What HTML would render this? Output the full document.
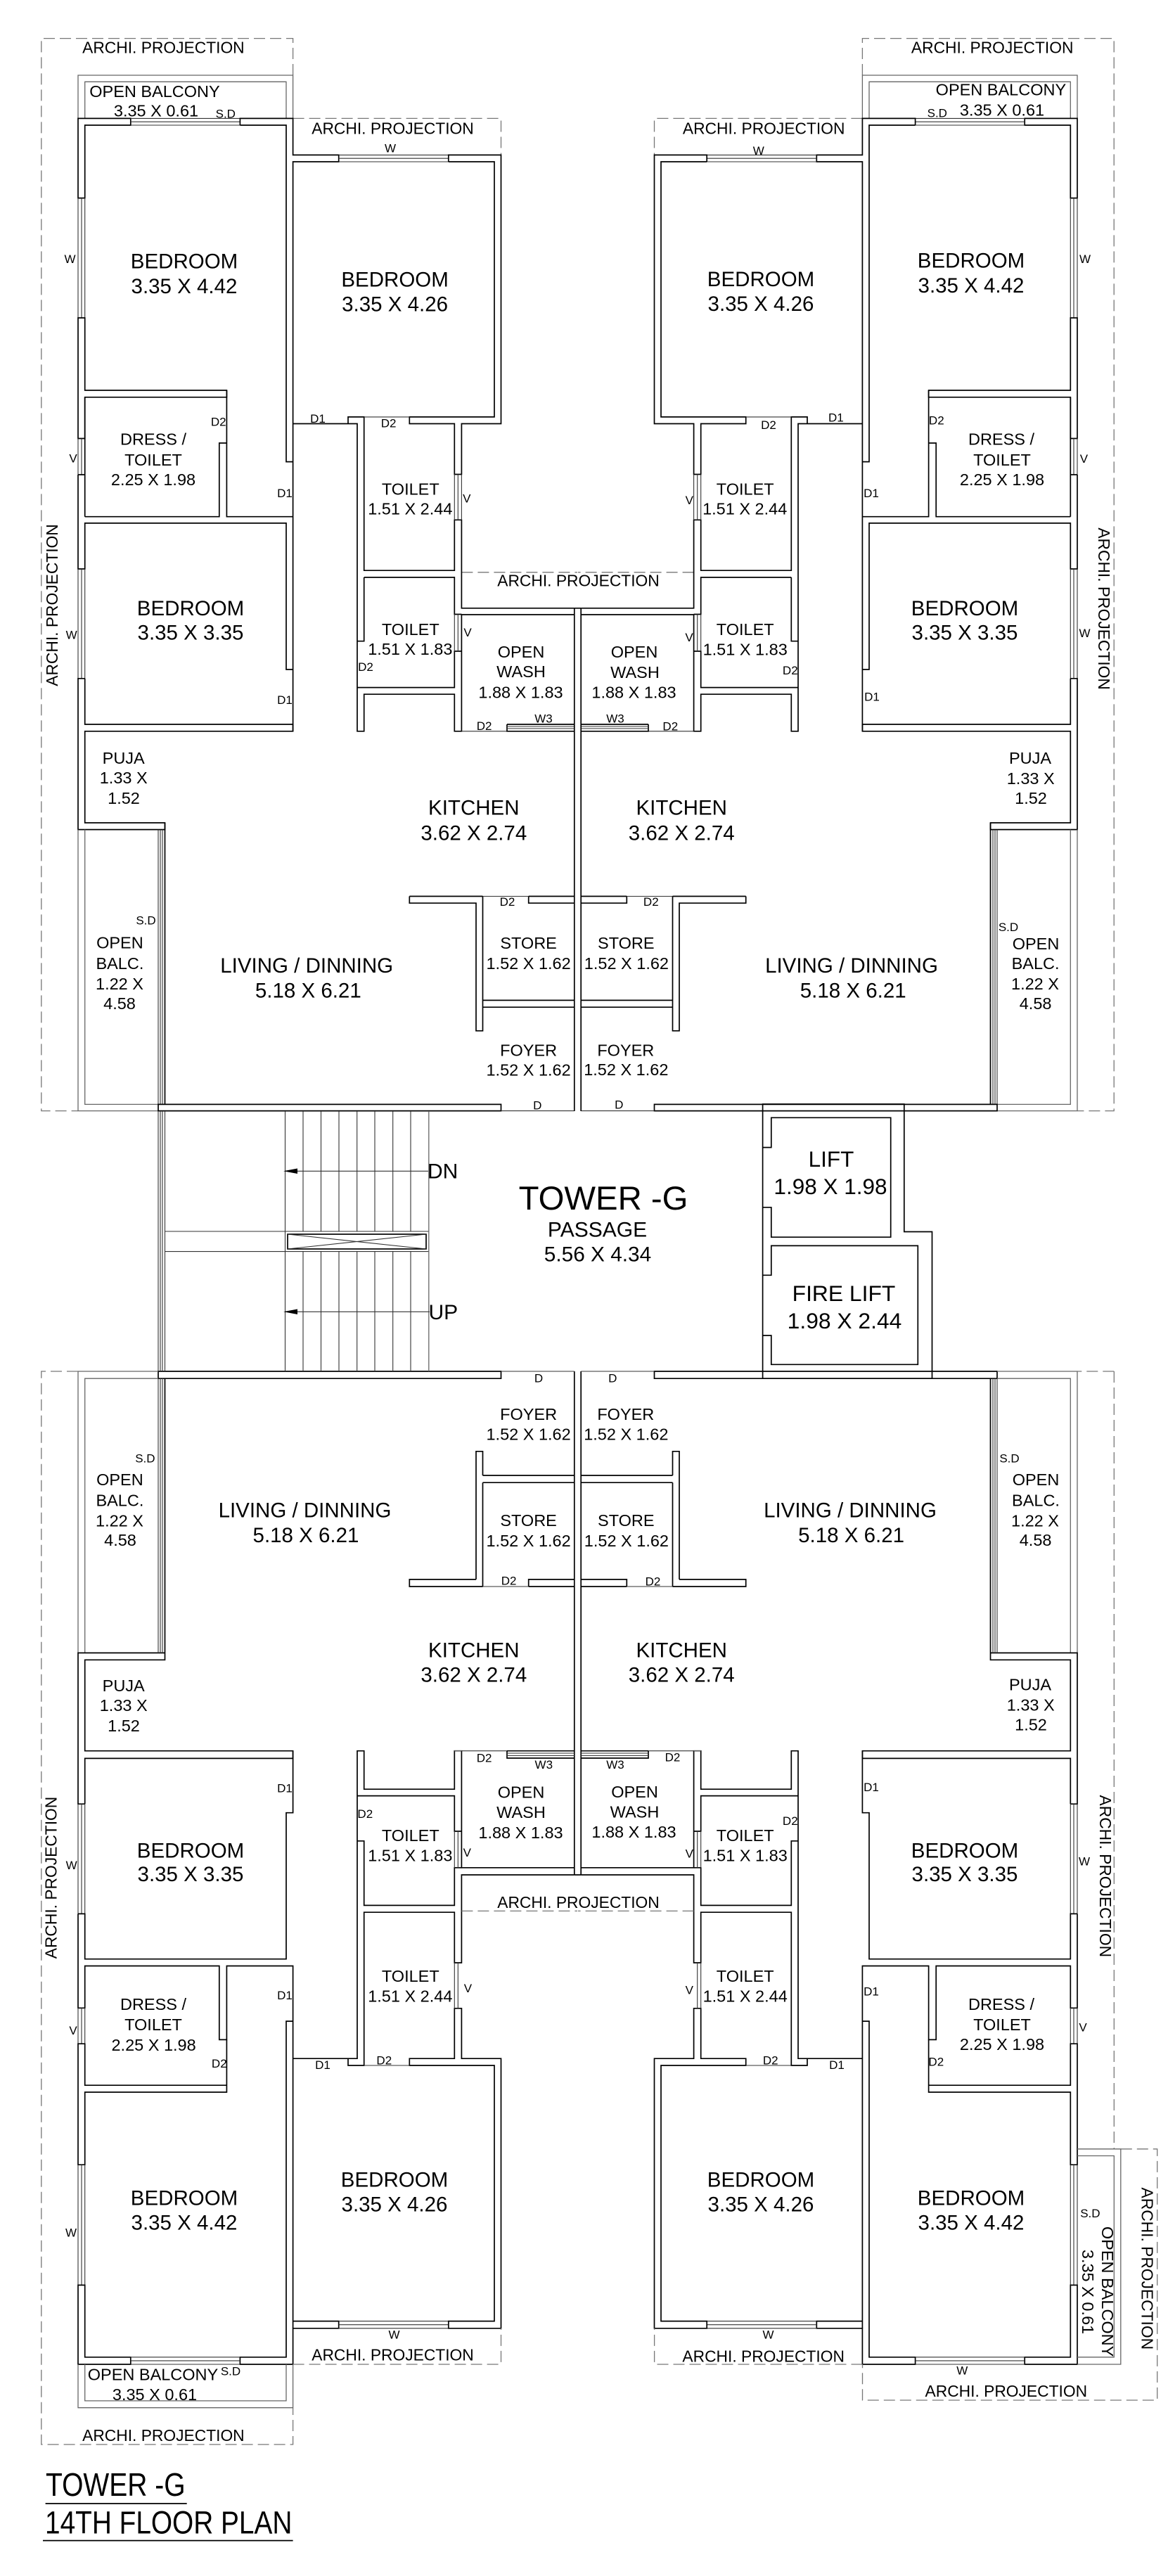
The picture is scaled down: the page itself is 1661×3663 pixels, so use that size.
<!DOCTYPE html>
<html><head><meta charset="utf-8"><title>Tower G 14th Floor Plan</title>
<style>
html,body{margin:0;padding:0;background:#fff}
svg{display:block}
text{font-family:"Liberation Sans",Arial,sans-serif;fill:#000;text-anchor:middle}
.a{font-size:29.5px}.b{font-size:23.5px}.c{font-size:17px}.p{font-size:22.8px}
.w{fill:none;stroke:#000;stroke-width:1.7}
.t{fill:none;stroke:#333;stroke-width:1.1}
.g{fill:none;stroke:#666;stroke-width:1.3}
.d{fill:none;stroke:#777;stroke-width:1.3;stroke-dasharray:16 7}
</style></head><body>
<svg xmlns="http://www.w3.org/2000/svg" width="1661" height="3663" viewBox="0 0 1661 3663">
<rect width="1661" height="3663" fill="#fff"/>
<defs>
<g id="half">
<!-- TOP: balcony / projections (dashes drawn separately for lower) -->
<path class="d" d="M416.6 107V54.6H58.8V1579.6H111"/>
<path class="g" d="M111 168.4V107H416.6V168.4M120.7 168.4V116.3H407V168.4"/>
<path class="d" d="M416.6 168.4H712.5V220.4"/>
<path class="d" d="M656.4 813.8H821"/>
<!-- top bedroom 1 -->
<path class="w" d="M185.8 168.4H111V281.6H120.7V178H185.8Z"/>
<path class="t" d="M185.8 168.4H341.4M185.8 173.2H341.4M185.8 178H341.4"/>
<path class="w" d="M341.4 178V168.4H416.6V220.4H481.7V230H416.6V1039.8"/>
<path class="w" d="M341.4 178H407V656.6H416.6"/>
<path class="t" d="M481.7 220.4H637.8M481.7 225.2H637.8M481.7 230H637.8"/>
<path class="w" d="M637.8 230V220.4H712.5V602.5H656.4V674.5H646.3V602.5H582.3V592.9H703V230H637.8"/>
<!-- left wall -->
<path class="t" d="M111 281.6V452M116 281.6V452M120.7 281.6V452"/>
<path class="w" d="M111 452H120.7V555H322.4V564.8H120.7V623.5H111Z"/>
<path class="t" d="M111 623.5V675M116 623.5V675M120.7 623.5V675"/>
<path class="w" d="M111 675H120.7V564.8M120.7 675V734.7M111 675V809H120.7V743.9H407V952H416.6M120.7 734.7H311.8V630H322.4V555M322.4 630V734.7H416.6"/>
<path class="t" d="M111 809V964.8M116 809V964.8M120.7 809V964.8"/>
<path class="w" d="M120.7 964.8H111V1179.6H234.5V1170H120.7V1039.8H416.6V1030H120.7V964.8"/>
<!-- balcony side + glazing -->
<path class="g" d="M111 1179.6V1579.6H225M120.7 1179.6V1570.4H225"/>
<path class="w" d="M234.5 1170V1570.4"/>
<path class="t" d="M225 1179.6V1570.4M228 1179.6V1570.4M231 1179.6V1570.4"/>
<path class="w" d="M225 1570.4H712.5V1579.6H225Z"/>
<path class="t" d="M712.5 1579.6H816.8"/>
<!-- toilets top -->
<path class="t" d="M416.6 602.5H495"/>
<path class="w" d="M416.6 602.5H495V592.9H517.7V811.2H646.3V739.3H656.4V864.8H816.8M495 602.5H508V1039.8H517.7V987.2H646.3V1039.8H656.4V874H816.8"/>
<path class="t" d="M517.7 592.9H582.3"/>
<path class="t" d="M646.3 674.5V739.3M651.3 674.5V739.3M656.4 674.5V739.3"/>
<path class="w" d="M517.7 821H646.3V873.5H656.4M517.7 821V911.7H508M517.7 977.6H646.3V926H656.4M508 977.6H517.7"/>
<path class="t" d="M646.3 873.5V926M651.3 873.5V926"/>
<path class="t" d="M656.4 1039.8H721"/>
<path class="w" d="M721 1030V1039.8H816.8M721 1030H816.8"/>
<path class="t" d="M721 1033H816.8M721 1036H816.8"/>
<!-- store top -->
<path class="w" d="M582.3 1274.5H686.5M582.3 1274.5V1284.2H677V1465.8H686.5V1274.5M686.5 1422.4H816.8M686.5 1432.2H816.8M751.7 1274.5V1284.2H816.8M751.7 1274.5H816.8"/>
<path class="t" d="M686.5 1274.5H751.7"/>
<!-- center wall half -->
<path class="w" d="M816.8 864.8V1580M816.8 1950V2666M816.8 864.8H821.6M816.8 2666H821.6"/>
<!-- LOWER -->
<path class="w" d="M225 1950H712.5V1960.2H225Z"/>
<path class="t" d="M712.5 1950H816.8"/>
<path class="g" d="M225 1950H111V2350.4M120.7 2350.4V1960.2H225"/>
<path class="w" d="M234.5 1960.2V2360.3H120.7V2489.7H416.6V2500.4H120.7V2565.2M234.5 2350.4H111V2565.2H120.7"/>
<path class="t" d="M225 1960.2V2350.4M228 1960.2V2350.4M231 1960.2V2350.4"/>
<path class="t" d="M111 2565.2V2721.4M116 2565.2V2721.4M120.7 2565.2V2721.4"/>
<path class="w" d="M111 2721.4H120.7V2785.7H407V2577.7H416.6V2489.7M111 2721.4V2855.3H120.7V2795.5H311.8V2900.4H322.4V2795.5H416.6V3310.8"/>
<path class="w" d="M416.6 2874.1H407V3351.8H341.4V3362H416.6V3310.8H481.7V3300.6H416.6"/>
<path class="t" d="M111 2855.3V2906.2M116 2855.3V2906.2M120.7 2855.3V2906.2"/>
<path class="w" d="M111 2906.2H120.7V2965.2H322.4V2975H120.7V3078.2H111ZM322.4 2900.4V2975"/>
<path class="t" d="M111 3078.2V3249.4M116 3078.2V3249.4M120.7 3078.2V3249.4"/>
<path class="w" d="M111 3249.4H120.7V3351.8H185.8V3362H111Z"/>
<path class="t" d="M185.8 3351.8H341.4M185.8 3356.9H341.4M185.8 3362H341.4"/>
<path class="t" d="M481.7 3300.6H637.8M481.7 3305.7H637.8M481.7 3310.8H637.8"/>
<path class="w" d="M637.8 3310.8V3300.6H703V2937H582.3V2927.2H646.3V2855.8H656.4V2927.2H712.5V3310.8Z"/>
<path class="w" d="M416.6 2927.2H495V2937H517.7V2719.2H646.3V2791H656.4V2666H816.8M495 2927.2H508V2489.7H517.7V2544.2H646.3V2489.7H656.4V2655.8H816.8M508 2553.6H646.3V2604H656.4"/>
<path class="t" d="M517.7 2937H582.3"/>
<path class="w" d="M508 2617.8H517.7V2709.4H646.3V2655.8H656.4"/>
<path class="t" d="M646.3 2604V2655.8M651.3 2604V2655.8"/>
<path class="t" d="M646.3 2791V2855.8M651.3 2791V2855.8"/>
<path class="t" d="M656.4 2489.7H721"/>
<path class="w" d="M721 2489.7V2500H816.8M721 2489.7H816.8"/>
<path class="t" d="M721 2493H816.8M721 2496.5H816.8"/>
<path class="d" d="M656.4 2717.4H821"/>
<path class="g" d="M656.4 2489.7H646.3"/>
<!-- store lower -->
<path class="w" d="M686.5 2098H816.8M686.5 2108.2H816.8M677 2245.9V2063.8H686.5V2098M686.5 2108.2V2256M677 2245.9H582.3V2256H686.5M751.7 2256V2245.9H816.8M751.7 2256H816.8"/>
<path class="t" d="M686.5 2256H751.7"/>
</g>
</defs>
<use href="#half"/>
<use href="#half" transform="matrix(-1 0 0 1 1643 0)"/>

<!-- lower-left-only dashes & balcony -->
<path class="d" d="M111 1950H58.8V3476H416.6V3423.7"/>
<path class="g" d="M111 3362V3423.7H416.6V3362M120.7 3362V3413.9H407V3362"/>
<path class="d" d="M416.6 3362H712.5V3310.8"/>
<!-- lower-right-only -->
<path class="d" d="M1584.3 1950H1532M1584.3 1950V3055.8M1593.8 3055.8H1645.7V3413H1226.5V3362"/>
<path class="g" d="M1532 3055.8H1593.8V3362H1532M1532 3065.5H1584.3V3351.8H1532"/>
<path class="d" d="M1226.5 3362H930.6V3310.8"/>

<!-- stairs -->
<path class="t" d="M405.5 1580V1950"/>
<path class="t" d="M225 1580V1950M228 1580V1950M231 1580V1950M234.5 1580V1950"/>
<path class="t" d="M234.5 1751H609.8M234.5 1779.6H609.8"/>
<path class="t" d="M431 1580V1751M456.5 1580V1751M482 1580V1751M507.7 1580V1751M533 1580V1751M558.7 1580V1751M584 1580V1751"/>
<path class="t" d="M431 1779.6V1950M456.5 1779.6V1950M482 1779.6V1950M507.7 1779.6V1950M533 1779.6V1950M558.7 1779.6V1950M584 1779.6V1950"/>
<path class="g" d="M609.8 1580V1950"/>
<rect x="409" y="1755" width="197" height="21" class="w" stroke-width="1.2"/>
<path class="t" d="M409 1755L606 1776M606 1755L409 1776"/>
<path class="t" d="M405 1665.3H609M405 1865.3H611"/>
<path d="M403 1665.3L423 1661.5V1669Z M403 1865.3L423 1861.5V1869Z" fill="#000"/>

<!-- lifts -->
<path class="w" d="M1084.6 1570H1285.8V1751.5H1325.5V1960.2H1084.6Z"/>
<path class="w" d="M1084.6 1631.6H1096.8V1589.3H1266.7V1759.2H1096.8V1716.8H1084.6"/>
<path class="w" d="M1084.6 1813.3H1096.8V1771.4H1305.3V1940.3H1096.8V1899H1084.6"/>

<!-- TEXT: large rooms -->
<text class="a" x="262" y="381.6">BEDROOM</text><text class="a" x="262" y="416.8">3.35 X 4.42</text>
<text class="a" x="561.6" y="407.6">BEDROOM</text><text class="a" x="561.6" y="442.3">3.35 X 4.26</text>
<text class="a" x="1082" y="407">BEDROOM</text><text class="a" x="1082" y="441.8">3.35 X 4.26</text>
<text class="a" x="1381" y="380.6">BEDROOM</text><text class="a" x="1381" y="415.8">3.35 X 4.42</text>
<text class="a" x="271" y="875">BEDROOM</text><text class="a" x="271" y="909.7">3.35 X 3.35</text>
<text class="a" x="1372" y="875">BEDROOM</text><text class="a" x="1372" y="909.7">3.35 X 3.35</text>
<text class="a" x="673.8" y="1158.7">KITCHEN</text><text class="a" x="673.8" y="1194.4">3.62 X 2.74</text>
<text class="a" x="969.2" y="1158.7">KITCHEN</text><text class="a" x="969.2" y="1194.4">3.62 X 2.74</text>
<text class="a" x="436.2" y="1383">LIVING / DINNING</text><text class="a" x="438.3" y="1418.4">5.18 X 6.21</text>
<text class="a" x="1211" y="1383">LIVING / DINNING</text><text class="a" x="1213.2" y="1418.4">5.18 X 6.21</text>
<text class="a" x="433.5" y="2157.7">LIVING / DINNING</text><text class="a" x="435" y="2192.9">5.18 X 6.21</text>
<text class="a" x="1209" y="2157.7">LIVING / DINNING</text><text class="a" x="1210.6" y="2192.9">5.18 X 6.21</text>
<text class="a" x="673.8" y="2356.7">KITCHEN</text><text class="a" x="673.8" y="2391.5">3.62 X 2.74</text>
<text class="a" x="969.2" y="2356.7">KITCHEN</text><text class="a" x="969.2" y="2391.5">3.62 X 2.74</text>
<text class="a" x="271" y="2641.5">BEDROOM</text><text class="a" x="271" y="2675">3.35 X 3.35</text>
<text class="a" x="1372" y="2641.5">BEDROOM</text><text class="a" x="1372" y="2675">3.35 X 3.35</text>
<text class="a" x="262" y="3135.3">BEDROOM</text><text class="a" x="262" y="3170.4">3.35 X 4.42</text>
<text class="a" x="561" y="3109.5">BEDROOM</text><text class="a" x="561" y="3144.6">3.35 X 4.26</text>
<text class="a" x="1082" y="3109.5">BEDROOM</text><text class="a" x="1082" y="3144.6">3.35 X 4.26</text>
<text class="a" x="1381" y="3135.3">BEDROOM</text><text class="a" x="1381" y="3170.4">3.35 X 4.42</text>

<!-- centre -->
<text x="858" y="1720" font-size="47.3">TOWER -G</text>
<text x="849.5" y="1758.5" font-size="30">PASSAGE</text>
<text x="850" y="1793.5" font-size="29.8">5.56 X 4.34</text>
<text x="1182" y="1659" font-size="31.5">LIFT</text><text x="1181" y="1698" font-size="31.5">1.98 X 1.98</text>
<text x="1200" y="1850" font-size="31.8">FIRE LIFT</text><text x="1201" y="1889" font-size="31.8">1.98 X 2.44</text>
<text x="608" y="1675.5" font-size="30" style="text-anchor:start">DN</text>
<text x="609.5" y="1876" font-size="30" style="text-anchor:start">UP</text>

<!-- b labels top -->
<text class="p" x="232.4" y="75.5">ARCHI. PROJECTION</text>
<text class="p" x="1411.2" y="75.5">ARCHI. PROJECTION</text>
<text class="b" x="220" y="137.8">OPEN BALCONY</text><text class="b" x="222" y="165.3">3.35 X 0.61</text>
<text class="b" x="1423.4" y="135.7">OPEN BALCONY</text><text class="b" x="1425" y="164.3">3.35 X 0.61</text>
<text class="p" x="558.5" y="190.3">ARCHI. PROJECTION</text>
<text class="p" x="1086.2" y="190.3">ARCHI. PROJECTION</text>
<text class="b" x="218" y="632.6">DRESS /</text><text class="b" x="218" y="662">TOILET</text><text class="b" x="218" y="689.8">2.25 X 1.98</text>
<text class="b" x="1424" y="632.6">DRESS /</text><text class="b" x="1425" y="662">TOILET</text><text class="b" x="1425" y="689.8">2.25 X 1.98</text>
<text class="b" x="583.8" y="703.6">TOILET</text><text class="b" x="583.3" y="731.6">1.51 X 2.44</text>
<text class="b" x="1059.7" y="703.6">TOILET</text><text class="b" x="1059.2" y="731.6">1.51 X 2.44</text>
<text class="p" x="822.5" y="833.7">ARCHI. PROJECTION</text>
<text class="b" x="583.8" y="903">TOILET</text><text class="b" x="583.3" y="931">1.51 X 1.83</text>
<text class="b" x="1059.7" y="903">TOILET</text><text class="b" x="1059.7" y="931.6">1.51 X 1.83</text>
<text class="b" x="741" y="935">OPEN</text><text class="b" x="741" y="962.8">WASH</text><text class="b" x="740.5" y="992.3">1.88 X 1.83</text>
<text class="b" x="902" y="935">OPEN</text><text class="b" x="903" y="963.8">WASH</text><text class="b" x="901.5" y="992.3">1.88 X 1.83</text>
<text class="b" x="175.7" y="1086">PUJA</text><text class="b" x="175.7" y="1113.8">1.33 X</text><text class="b" x="176" y="1142.9">1.52</text>
<text class="b" x="1465" y="1086">PUJA</text><text class="b" x="1465.7" y="1114.8">1.33 X</text><text class="b" x="1466" y="1143">1.52</text>
<text class="b" x="751.6" y="1349">STORE</text><text class="b" x="751.6" y="1378">1.52 X 1.62</text>
<text class="b" x="890.3" y="1349">STORE</text><text class="b" x="890.9" y="1378">1.52 X 1.62</text>
<text class="b" x="751.6" y="1501.5">FOYER</text><text class="b" x="751.6" y="1529.6">1.52 X 1.62</text>
<text class="b" x="889.8" y="1501.5">FOYER</text><text class="b" x="890.3" y="1529">1.52 X 1.62</text>
<text class="b" x="170.4" y="1348.5">OPEN</text><text class="b" x="170.4" y="1378">BALC.</text><text class="b" x="170" y="1407">1.22 X</text><text class="b" x="170" y="1435">4.58</text>
<text class="b" x="1473" y="1350">OPEN</text><text class="b" x="1472.6" y="1378">BALC.</text><text class="b" x="1472" y="1407">1.22 X</text><text class="b" x="1472.6" y="1435">4.58</text>
<!-- b labels lower -->
<text class="b" x="751.6" y="2018.9">FOYER</text><text class="b" x="751.6" y="2047.5">1.52 X 1.62</text>
<text class="b" x="889.8" y="2018.9">FOYER</text><text class="b" x="890.3" y="2047.5">1.52 X 1.62</text>
<text class="b" x="751.6" y="2169.9">STORE</text><text class="b" x="751.6" y="2199">1.52 X 1.62</text>
<text class="b" x="890.3" y="2169.9">STORE</text><text class="b" x="890.9" y="2199">1.52 X 1.62</text>
<text class="b" x="170.4" y="2112">OPEN</text><text class="b" x="170.4" y="2141.3">BALC.</text><text class="b" x="170" y="2170.4">1.22 X</text><text class="b" x="171" y="2198">4.58</text>
<text class="b" x="1473" y="2112">OPEN</text><text class="b" x="1473" y="2141.3">BALC.</text><text class="b" x="1472" y="2170.4">1.22 X</text><text class="b" x="1472.6" y="2198">4.58</text>
<text class="b" x="175.7" y="2405">PUJA</text><text class="b" x="175.7" y="2433">1.33 X</text><text class="b" x="176" y="2462">1.52</text>
<text class="b" x="1465" y="2403.6">PUJA</text><text class="b" x="1465.7" y="2432.6">1.33 X</text><text class="b" x="1466" y="2460.7">1.52</text>
<text class="b" x="741" y="2556.7">OPEN</text><text class="b" x="741" y="2584.8">WASH</text><text class="b" x="740.5" y="2613.8">1.88 X 1.83</text>
<text class="b" x="902.5" y="2555.8">OPEN</text><text class="b" x="902.5" y="2584.4">WASH</text><text class="b" x="901.5" y="2613">1.88 X 1.83</text>
<text class="b" x="583.8" y="2617.8">TOILET</text><text class="b" x="583.3" y="2646.4">1.51 X 1.83</text>
<text class="b" x="1059.7" y="2617.8">TOILET</text><text class="b" x="1059.7" y="2646.4">1.51 X 1.83</text>
<text class="p" x="822.5" y="2713">ARCHI. PROJECTION</text>
<text class="b" x="583.8" y="2817.8">TOILET</text><text class="b" x="583.3" y="2846.4">1.51 X 2.44</text>
<text class="b" x="1059.7" y="2817.8">TOILET</text><text class="b" x="1059.7" y="2846.4">1.51 X 2.44</text>
<text class="b" x="218" y="2858">DRESS /</text><text class="b" x="218" y="2887">TOILET</text><text class="b" x="218.6" y="2916">2.25 X 1.98</text>
<text class="b" x="1424" y="2858">DRESS /</text><text class="b" x="1425" y="2887">TOILET</text><text class="b" x="1425" y="2915">2.25 X 1.98</text>
<text class="p" x="558.5" y="3356.4">ARCHI. PROJECTION</text>
<text class="p" x="1085.7" y="3358.5">ARCHI. PROJECTION</text>
<text class="b" x="217.5" y="3384.7">OPEN BALCONY</text><text class="b" x="220" y="3413">3.35 X 0.61</text>
<text class="p" x="232.4" y="3471">ARCHI. PROJECTION</text>
<text class="p" x="1430.8" y="3408">ARCHI. PROJECTION</text>
<!-- rotated -->
<text class="p" transform="translate(82 860.5) rotate(-90)">ARCHI. PROJECTION</text>
<text class="p" transform="translate(1562 865.6) rotate(90)">ARCHI. PROJECTION</text>
<text class="p" transform="translate(80.5 2670) rotate(-90)">ARCHI. PROJECTION</text>
<text class="p" transform="translate(1564 2667.8) rotate(90)">ARCHI. PROJECTION</text>
<text class="b" transform="translate(1566.8 3258.6) rotate(90)">OPEN BALCONY</text>
<text class="b" transform="translate(1539 3259) rotate(90)">3.35 X 0.61</text>
<text class="p" transform="translate(1623.4 3225.8) rotate(90)">ARCHI. PROJECTION</text>

<!-- small labels -->
<text class="c" x="320.8" y="167.3">S.D</text><text class="c" x="1332.8" y="166.3">S.D</text>
<text class="c" x="555" y="216.3">W</text><text class="c" x="1078.8" y="220">W</text>
<text class="c" x="99.5" y="374">W</text><text class="c" x="1543" y="374">W</text>
<text class="c" x="310.7" y="605.6">D2</text><text class="c" x="1331.8" y="603.6">D2</text>
<text class="c" x="104" y="657.6">V</text><text class="c" x="1541.4" y="658">V</text>
<text class="c" x="452" y="601">D1</text><text class="c" x="552.6" y="607.6">D2</text>
<text class="c" x="1093" y="610.2">D2</text><text class="c" x="1188.9" y="599.5">D1</text>
<text class="c" x="405" y="707">D1</text><text class="c" x="1239" y="707">D1</text>
<text class="c" x="663.8" y="714.3">V</text><text class="c" x="980.3" y="716.8">V</text>
<text class="c" x="101.6" y="908.7">W</text><text class="c" x="1542.5" y="906">W</text>
<text class="c" x="665" y="905">V</text><text class="c" x="980" y="912.2">V</text>
<text class="c" x="520" y="954">D2</text><text class="c" x="1123.8" y="959">D2</text>
<text class="c" x="405" y="1001">D1</text><text class="c" x="1240" y="996.4">D1</text>
<text class="c" x="773" y="1027.5">W3</text><text class="c" x="875" y="1027.5">W3</text>
<text class="c" x="688.6" y="1038">D2</text><text class="c" x="953.3" y="1038.3">D2</text>
<text class="c" x="721.5" y="1287.8">D2</text><text class="c" x="925.8" y="1287.8">D2</text>
<text class="c" x="207.5" y="1314.3">S.D</text><text class="c" x="1434" y="1324">S.D</text>
<text class="c" x="764.3" y="1577.5">D</text><text class="c" x="880.3" y="1576.5">D</text>
<text class="c" x="766" y="1965.3">D</text><text class="c" x="871.3" y="1965.3">D</text>
<text class="c" x="206.4" y="2079.6">S.D</text><text class="c" x="1435.5" y="2079.6">S.D</text>
<text class="c" x="723.6" y="2253.6">D2</text><text class="c" x="928.5" y="2254.6">D2</text>
<text class="c" x="688.6" y="2505.3">D2</text><text class="c" x="956.5" y="2504.5">D2</text>
<text class="c" x="773.3" y="2515">W3</text><text class="c" x="875" y="2515">W3</text>
<text class="c" x="405" y="2548.6">D1</text><text class="c" x="1239" y="2546.9">D1</text>
<text class="c" x="519.3" y="2584.8">D2</text><text class="c" x="1123.8" y="2595">D2</text>
<text class="c" x="664.3" y="2640">V</text><text class="c" x="980.3" y="2641.5">V</text>
<text class="c" x="101.6" y="2658">W</text><text class="c" x="1542" y="2652.7">W</text>
<text class="c" x="665.4" y="2833">V</text><text class="c" x="980.3" y="2835.7">V</text>
<text class="c" x="405" y="2842.8">D1</text><text class="c" x="1239" y="2837.5">D1</text>
<text class="c" x="104" y="2892.8">V</text><text class="c" x="1540" y="2888.4">V</text>
<text class="c" x="311.8" y="2940">D2</text><text class="c" x="1331.3" y="2937.5">D2</text>
<text class="c" x="459" y="2942">D1</text><text class="c" x="546.3" y="2935.7">D2</text>
<text class="c" x="1095.7" y="2935.7">D2</text><text class="c" x="1190" y="2942">D1</text>
<text class="c" x="101" y="3180.5">W</text><text class="c" x="1550.4" y="3153">S.D</text>
<text class="c" x="560.5" y="3325.6">W</text><text class="c" x="1092.5" y="3325.6">W</text>
<text class="c" x="328" y="3377.6">S.D</text><text class="c" x="1368.3" y="3376.3">W</text>

<!-- title -->
<text transform="translate(65 3548.8) scale(1 1.18)" font-size="39" style="text-anchor:start">TOWER -G</text>
<text transform="translate(64 3602.5) scale(1 1.18)" font-size="38.8" style="text-anchor:start">14TH FLOOR PLAN</text>
<path class="w" d="M64.6 3560H265.7M61 3612.6H416.6"/>
</svg>
</body></html>
